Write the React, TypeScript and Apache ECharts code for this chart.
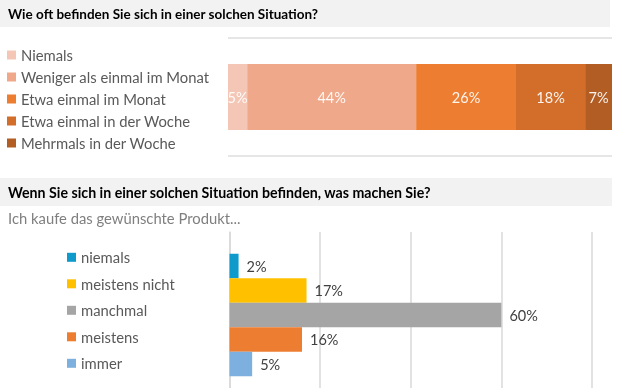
import React, { useEffect, useRef } from "react";
import * as echarts from "echarts";

const title1 = "Wie oft befinden Sie sich in einer solchen Situation?";
const title2 = "Wenn Sie sich in einer solchen Situation befinden, was machen Sie?";
const subtitle2 = "Ich kaufe das gewünschte Produkt...";

const freqNames = [
  "Niemals",
  "Weniger als einmal im Monat",
  "Etwa einmal im Monat",
  "Etwa einmal in der Woche",
  "Mehrmals in der Woche",
];
const freqValues = [5, 44, 26, 18, 7];
const freqColors = ["#f4c6b5", "#f0a88a", "#ed7d31", "#d26d2a", "#b25d23"];

const buyNames = ["niemals", "meistens nicht", "manchmal", "meistens", "immer"];
const buyValues = [2, 17, 60, 16, 5];
const buyColors = ["#0e9acb", "#ffc000", "#a5a5a5", "#ed7d31", "#7eb0df"];

const FONT = "Lato";

export default function App() {
  const ref = useRef<HTMLDivElement>(null);
  useEffect(() => {
    if (!ref.current) return;
    const chart = echarts.init(ref.current, undefined, { renderer: "svg" });
    const topSeries = freqNames.map((n, i) => ({
      name: n,
      type: "bar",
      stack: "freq",
      xAxisIndex: 0,
      yAxisIndex: 0,
      barWidth: 66,
      data: [freqValues[i]],
      itemStyle: { color: freqColors[i] },
      label: {
        show: true,
        position: "inside",
        formatter: "{c}%",
        color: "rgba(255,255,255,0.92)",
        fontFamily: FONT,
        fontSize: 14.5,
      },
    }));
    // invisible spacer that pushes the group of bars slightly downward
    const spacer = {
      name: "_spacer",
      type: "bar",
      xAxisIndex: 1,
      yAxisIndex: 1,
      barWidth: 10,
      barGap: "0%",
      data: [null],
      silent: true,
      itemStyle: { color: "transparent" },
      label: { show: false },
    };
    const bottomSeries = buyNames.map((n, i) => ({
      name: n,
      type: "bar",
      xAxisIndex: 1,
      yAxisIndex: 1,
      barWidth: 24.5,
      barGap: "0%",
      data: [buyValues[i]],
      itemStyle: { color: buyColors[i] },
      label: {
        show: true,
        position: "right",
        distance: 8,
        formatter: "{c}%",
        color: "#404040",
        fontFamily: FONT,
        fontSize: 14.5,
      },
    }));
    chart.setOption({
      animation: false,
      textStyle: { fontFamily: FONT },
      graphic: [
        { type: "rect", shape: { x: 0, y: 0, width: 610, height: 27 }, style: { fill: "#f2f2f2" }, silent: true },
        { type: "text", x: 8, y: 14, style: { text: title1, fill: "#000", font: `bold 13.5px ${FONT}`, textVerticalAlign: "middle" } },
        { type: "rect", shape: { x: 0, y: 178, width: 612, height: 28 }, style: { fill: "#f2f2f2" }, silent: true },
        { type: "text", x: 8, y: 192, style: { text: title2, fill: "#000", font: `bold 14.2px ${FONT}`, textVerticalAlign: "middle" } },
        { type: "text", x: 8, y: 218, style: { text: subtitle2, fill: "#7f7f7f", font: `14.8px ${FONT}`, textVerticalAlign: "middle" } },
      ],
      legend: [
        {
          data: freqNames,
          orient: "vertical",
          left: 2,
          top: 42.5,
          itemWidth: 9,
          itemHeight: 9,
          itemGap: 7,
          icon: "rect",
          textStyle: { color: "#595959", fontSize: 14.8, lineHeight: 15, fontFamily: FONT },
        },
        {
          data: buyNames,
          orient: "vertical",
          left: 62,
          top: 244.8,
          itemWidth: 9,
          itemHeight: 9,
          itemGap: 11.5,
          icon: "rect",
          textStyle: { color: "#595959", fontSize: 14.8, lineHeight: 15, fontFamily: FONT },
        },
      ],
      grid: [
        { left: 228, right: 8, top: 38, bottom: 232, containLabel: false },
        { left: 229.5, right: 28, top: 232, bottom: 0, containLabel: false },
      ],
      xAxis: [
        {
          gridIndex: 0,
          type: "value",
          min: 0,
          max: 100,
          axisLabel: { show: false },
          axisLine: { show: false },
          axisTick: { show: false },
          splitLine: { show: false },
        },
        {
          gridIndex: 1,
          type: "value",
          min: 0,
          max: 80,
          interval: 20,
          axisLabel: { show: false },
          axisLine: { show: false },
          axisTick: { show: false },
          splitLine: { show: true, lineStyle: { color: "#d9d9d9", width: 1.5 } },
        },
      ],
      yAxis: [
        {
          gridIndex: 0,
          type: "category",
          data: [""],
          axisLabel: { show: false },
          axisLine: { show: false },
          axisTick: { show: false },
          splitLine: { show: true, lineStyle: { color: "#e6e6e6", width: 2 } },
        },
        {
          gridIndex: 1,
          type: "category",
          data: [""],
          axisLabel: { show: false },
          axisLine: { show: true, lineStyle: { color: "#d9d9d9", width: 1.5 } },
          axisTick: { show: false },
          splitLine: { show: false },
        },
      ],
      series: [...topSeries, spacer, ...bottomSeries],
    });
    return () => chart.dispose();
  }, []);
  return (
    <div
      ref={ref}
      style={{ position: "fixed", left: 0, top: 0, width: 620, height: 388 }}
    />
  );
}
